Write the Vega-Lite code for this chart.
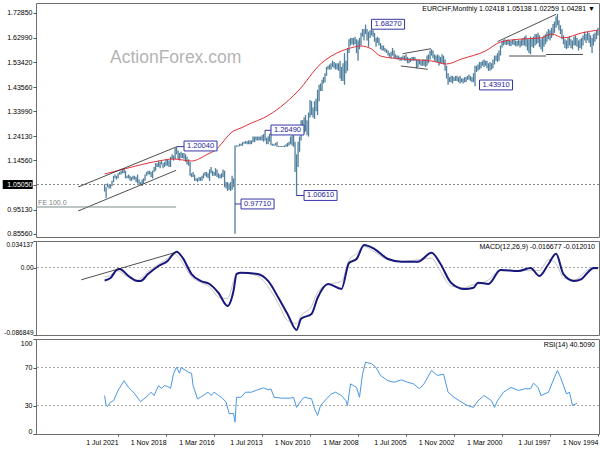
{
"$schema":"https://vega.github.io/schema/vega-lite/v6.json",
"padding":{"left":2,"top":2,"right":0,"bottom":0},
"background":"white",
"bounds":"flush",
"spacing":4,
"config":{"font":"Liberation Sans","view":{"stroke":"#6e6e6e","strokeWidth":1},
"axis":{"labelFontSize":7,"labelColor":"#000","tickColor":"#555","tickSize":3,"domain":false,"grid":false,"labelPadding":1,"labelOverlap":false,"tickCount":40},
"axisY":{"minExtent":33,"maxExtent":33},
"title":{"fontSize":7,"fontWeight":"normal","color":"#000","anchor":"end","offset":-9,"frame":"group","dx":-4}},
"datasets":{
"bars":[
{"d":"1994-11-01","h":1.670,"l":1.640},{"d":"1994-12-01","h":1.660,"l":1.625},{"d":"1995-01-01","h":1.650,"l":1.615},{"d":"1995-02-01","h":1.645,"l":1.600},{"d":"1995-03-01","h":1.630,"l":1.570},{"d":"1995-04-01","h":1.640,"l":1.595},{"d":"1995-05-01","h":1.650,"l":1.610},{"d":"1995-06-01","h":1.655,"l":1.620},{"d":"1995-07-01","h":1.645,"l":1.610},{"d":"1995-08-01","h":1.655,"l":1.620},{"d":"1995-09-01","h":1.640,"l":1.600},{"d":"1995-10-01","h":1.630,"l":1.585},{"d":"1995-11-01","h":1.625,"l":1.590},{"d":"1995-12-01","h":1.620,"l":1.580},
{"d":"1996-01-01","h":1.630,"l":1.595},{"d":"1996-02-01","h":1.640,"l":1.600},{"d":"1996-03-01","h":1.635,"l":1.600},{"d":"1996-04-01","h":1.620,"l":1.585},{"d":"1996-05-01","h":1.625,"l":1.590},{"d":"1996-06-01","h":1.635,"l":1.600},{"d":"1996-07-01","h":1.630,"l":1.590},{"d":"1996-08-01","h":1.620,"l":1.585},{"d":"1996-09-01","h":1.625,"l":1.590},{"d":"1996-10-01","h":1.640,"l":1.605},{"d":"1996-11-01","h":1.665,"l":1.625},{"d":"1996-12-01","h":1.680,"l":1.645},
{"d":"1997-01-01","h":1.700,"l":1.660},{"d":"1997-02-01","h":1.725,"l":1.680},{"d":"1997-03-01","h":1.715,"l":1.670},{"d":"1997-04-01","h":1.695,"l":1.650},{"d":"1997-05-01","h":1.685,"l":1.640},{"d":"1997-06-01","h":1.670,"l":1.630},{"d":"1997-07-01","h":1.660,"l":1.620},{"d":"1997-08-01","h":1.665,"l":1.625},{"d":"1997-09-01","h":1.655,"l":1.615},{"d":"1997-10-01","h":1.645,"l":1.605},{"d":"1997-11-01","h":1.640,"l":1.595},{"d":"1997-12-01","h":1.630,"l":1.575},
{"d":"1998-01-01","h":1.625,"l":1.585},{"d":"1998-02-01","h":1.640,"l":1.595},{"d":"1998-03-01","h":1.650,"l":1.610},{"d":"1998-04-01","h":1.645,"l":1.605},{"d":"1998-05-01","h":1.645,"l":1.600},{"d":"1998-06-01","h":1.635,"l":1.590},{"d":"1998-07-01","h":1.630,"l":1.595},{"d":"1998-08-01","h":1.635,"l":1.565},{"d":"1998-09-01","h":1.625,"l":1.570},{"d":"1998-10-01","h":1.625,"l":1.580},{"d":"1998-11-01","h":1.640,"l":1.595},{"d":"1998-12-01","h":1.635,"l":1.600},
{"d":"1999-01-01","h":1.630,"l":1.600},{"d":"1999-02-01","h":1.625,"l":1.598},{"d":"1999-03-01","h":1.620,"l":1.592},{"d":"1999-04-01","h":1.622,"l":1.600},{"d":"1999-05-01","h":1.618,"l":1.596},{"d":"1999-06-01","h":1.620,"l":1.598},{"d":"1999-07-01","h":1.625,"l":1.602},{"d":"1999-08-01","h":1.622,"l":1.604},{"d":"1999-09-01","h":1.618,"l":1.598},{"d":"1999-10-01","h":1.620,"l":1.598},{"d":"1999-11-01","h":1.625,"l":1.604},{"d":"1999-12-01","h":1.622,"l":1.602},
{"d":"2000-01-01","h":1.625,"l":1.604},{"d":"2000-02-01","h":1.622,"l":1.600},{"d":"2000-03-01","h":1.618,"l":1.592},{"d":"2000-04-01","h":1.600,"l":1.560},{"d":"2000-05-01","h":1.580,"l":1.540},{"d":"2000-06-01","h":1.570,"l":1.535},{"d":"2000-07-01","h":1.560,"l":1.540},{"d":"2000-08-01","h":1.560,"l":1.525},{"d":"2000-09-01","h":1.545,"l":1.510},{"d":"2000-10-01","h":1.530,"l":1.505},{"d":"2000-11-01","h":1.535,"l":1.500},{"d":"2000-12-01","h":1.530,"l":1.500},
{"d":"2001-01-01","h":1.540,"l":1.510},{"d":"2001-02-01","h":1.540,"l":1.520},{"d":"2001-03-01","h":1.545,"l":1.515},{"d":"2001-04-01","h":1.540,"l":1.520},{"d":"2001-05-01","h":1.535,"l":1.510},{"d":"2001-06-01","h":1.535,"l":1.505},{"d":"2001-07-01","h":1.525,"l":1.500},{"d":"2001-08-01","h":1.520,"l":1.495},{"d":"2001-09-01","h":1.520,"l":1.4391},{"d":"2001-10-01","h":1.490,"l":1.455},{"d":"2001-11-01","h":1.475,"l":1.455},{"d":"2001-12-01","h":1.480,"l":1.460},
{"d":"2002-01-01","h":1.485,"l":1.465},{"d":"2002-02-01","h":1.480,"l":1.465},{"d":"2002-03-01","h":1.475,"l":1.455},{"d":"2002-04-01","h":1.475,"l":1.455},{"d":"2002-05-01","h":1.470,"l":1.450},{"d":"2002-06-01","h":1.470,"l":1.455},{"d":"2002-07-01","h":1.480,"l":1.450},{"d":"2002-08-01","h":1.475,"l":1.455},{"d":"2002-09-01","h":1.480,"l":1.460},{"d":"2002-10-01","h":1.480,"l":1.460},{"d":"2002-11-01","h":1.475,"l":1.460},{"d":"2002-12-01","h":1.480,"l":1.450},
{"d":"2003-01-01","h":1.480,"l":1.455},{"d":"2003-02-01","h":1.475,"l":1.455},{"d":"2003-03-01","h":1.490,"l":1.445},{"d":"2003-04-01","h":1.520,"l":1.470},{"d":"2003-05-01","h":1.545,"l":1.500},{"d":"2003-06-01","h":1.560,"l":1.525},{"d":"2003-07-01","h":1.565,"l":1.530},{"d":"2003-08-01","h":1.555,"l":1.530},{"d":"2003-09-01","h":1.560,"l":1.520},{"d":"2003-10-01","h":1.565,"l":1.535},{"d":"2003-11-01","h":1.560,"l":1.535},{"d":"2003-12-01","h":1.565,"l":1.540},
{"d":"2004-01-01","h":1.580,"l":1.550},{"d":"2004-02-01","h":1.585,"l":1.560},{"d":"2004-03-01","h":1.580,"l":1.545},{"d":"2004-04-01","h":1.565,"l":1.530},{"d":"2004-05-01","h":1.560,"l":1.520},{"d":"2004-06-01","h":1.545,"l":1.515},{"d":"2004-07-01","h":1.545,"l":1.520},{"d":"2004-08-01","h":1.545,"l":1.520},{"d":"2004-09-01","h":1.540,"l":1.520},{"d":"2004-10-01","h":1.545,"l":1.525},{"d":"2004-11-01","h":1.545,"l":1.515},{"d":"2004-12-01","h":1.545,"l":1.510},
{"d":"2005-01-01","h":1.555,"l":1.540},{"d":"2005-02-01","h":1.555,"l":1.540},{"d":"2005-03-01","h":1.555,"l":1.540},{"d":"2005-04-01","h":1.550,"l":1.535},{"d":"2005-05-01","h":1.550,"l":1.530},{"d":"2005-06-01","h":1.555,"l":1.530},{"d":"2005-07-01","h":1.565,"l":1.540},{"d":"2005-08-01","h":1.560,"l":1.540},{"d":"2005-09-01","h":1.560,"l":1.545},{"d":"2005-10-01","h":1.555,"l":1.540},{"d":"2005-11-01","h":1.555,"l":1.540},{"d":"2005-12-01","h":1.560,"l":1.545},
{"d":"2006-01-01","h":1.560,"l":1.545},{"d":"2006-02-01","h":1.565,"l":1.550},{"d":"2006-03-01","h":1.580,"l":1.550},{"d":"2006-04-01","h":1.590,"l":1.560},{"d":"2006-05-01","h":1.575,"l":1.550},{"d":"2006-06-01","h":1.570,"l":1.555},{"d":"2006-07-01","h":1.580,"l":1.560},{"d":"2006-08-01","h":1.585,"l":1.570},{"d":"2006-09-01","h":1.590,"l":1.575},{"d":"2006-10-01","h":1.600,"l":1.580},{"d":"2006-11-01","h":1.600,"l":1.580},{"d":"2006-12-01","h":1.610,"l":1.585},
{"d":"2007-01-01","h":1.630,"l":1.600},{"d":"2007-02-01","h":1.635,"l":1.610},{"d":"2007-03-01","h":1.630,"l":1.595},{"d":"2007-04-01","h":1.650,"l":1.615},{"d":"2007-05-01","h":1.660,"l":1.635},{"d":"2007-06-01","h":1.665,"l":1.640},{"d":"2007-07-01","h":1.660,"l":1.630},{"d":"2007-08-01","h":1.655,"l":1.595},{"d":"2007-09-01","h":1.665,"l":1.620},{"d":"2007-10-01","h":1.6827,"l":1.645},{"d":"2007-11-01","h":1.665,"l":1.620},{"d":"2007-12-01","h":1.665,"l":1.635},
{"d":"2008-01-01","h":1.650,"l":1.600},{"d":"2008-02-01","h":1.630,"l":1.585},{"d":"2008-03-01","h":1.620,"l":1.540},{"d":"2008-04-01","h":1.625,"l":1.570},{"d":"2008-05-01","h":1.635,"l":1.605},{"d":"2008-06-01","h":1.630,"l":1.600},{"d":"2008-07-01","h":1.630,"l":1.605},{"d":"2008-08-01","h":1.630,"l":1.600},{"d":"2008-09-01","h":1.625,"l":1.570},{"d":"2008-10-01","h":1.590,"l":1.500},{"d":"2008-11-01","h":1.540,"l":1.490},{"d":"2008-12-01","h":1.570,"l":1.445},
{"d":"2009-01-01","h":1.530,"l":1.460},{"d":"2009-02-01","h":1.515,"l":1.460},{"d":"2009-03-01","h":1.540,"l":1.470},{"d":"2009-04-01","h":1.530,"l":1.500},{"d":"2009-05-01","h":1.530,"l":1.505},{"d":"2009-06-01","h":1.530,"l":1.505},{"d":"2009-07-01","h":1.535,"l":1.510},{"d":"2009-08-01","h":1.540,"l":1.515},{"d":"2009-09-01","h":1.530,"l":1.505},{"d":"2009-10-01","h":1.525,"l":1.505},{"d":"2009-11-01","h":1.520,"l":1.505},{"d":"2009-12-01","h":1.515,"l":1.480},
{"d":"2010-01-01","h":1.490,"l":1.455},{"d":"2010-02-01","h":1.475,"l":1.450},{"d":"2010-03-01","h":1.465,"l":1.420},{"d":"2010-04-01","h":1.450,"l":1.420},{"d":"2010-05-01","h":1.445,"l":1.380},{"d":"2010-06-01","h":1.425,"l":1.325},{"d":"2010-07-01","h":1.390,"l":1.340},{"d":"2010-08-01","h":1.380,"l":1.310},{"d":"2010-09-01","h":1.355,"l":1.315},{"d":"2010-10-01","h":1.380,"l":1.325},{"d":"2010-11-01","h":1.385,"l":1.315},{"d":"2010-12-01","h":1.335,"l":1.240},
{"d":"2011-01-01","h":1.305,"l":1.245},{"d":"2011-02-01","h":1.325,"l":1.260},{"d":"2011-03-01","h":1.315,"l":1.255},{"d":"2011-04-01","h":1.305,"l":1.265},{"d":"2011-05-01","h":1.305,"l":1.225},{"d":"2011-06-01","h":1.240,"l":1.180},{"d":"2011-07-01","h":1.220,"l":1.120},{"d":"2011-08-01","h":1.170,"l":1.0061},{"d":"2011-09-01","h":1.220,"l":1.100},{"d":"2011-10-01","h":1.245,"l":1.200},{"d":"2011-11-01","h":1.245,"l":1.205},{"d":"2011-12-01","h":1.240,"l":1.210},
{"d":"2012-01-01","h":1.220,"l":1.205},{"d":"2012-02-01","h":1.215,"l":1.200},{"d":"2012-03-01","h":1.210,"l":1.200},{"d":"2012-04-01","h":1.205,"l":1.198},{"d":"2012-05-01","h":1.203,"l":1.199},{"d":"2012-06-01","h":1.203,"l":1.199},{"d":"2012-07-01","h":1.203,"l":1.199},{"d":"2012-08-01","h":1.203,"l":1.199},{"d":"2012-09-01","h":1.220,"l":1.200},{"d":"2012-10-01","h":1.215,"l":1.205},{"d":"2012-11-01","h":1.210,"l":1.203},{"d":"2012-12-01","h":1.212,"l":1.204},
{"d":"2013-01-01","h":1.255,"l":1.206},{"d":"2013-02-01","h":1.250,"l":1.220},{"d":"2013-03-01","h":1.240,"l":1.210},{"d":"2013-04-01","h":1.235,"l":1.210},{"d":"2013-05-01","h":1.2649,"l":1.225},{"d":"2013-06-01","h":1.250,"l":1.220},{"d":"2013-07-01","h":1.245,"l":1.225},{"d":"2013-08-01","h":1.240,"l":1.225},{"d":"2013-09-01","h":1.240,"l":1.225},{"d":"2013-10-01","h":1.240,"l":1.225},{"d":"2013-11-01","h":1.240,"l":1.225},{"d":"2013-12-01","h":1.240,"l":1.218},
{"d":"2014-01-01","h":1.240,"l":1.218},{"d":"2014-02-01","h":1.225,"l":1.210},{"d":"2014-03-01","h":1.225,"l":1.210},{"d":"2014-04-01","h":1.225,"l":1.210},{"d":"2014-05-01","h":1.222,"l":1.210},{"d":"2014-06-01","h":1.222,"l":1.212},{"d":"2014-07-01","h":1.220,"l":1.212},{"d":"2014-08-01","h":1.218,"l":1.204},{"d":"2014-09-01","h":1.212,"l":1.204},{"d":"2014-10-01","h":1.212,"l":1.202},{"d":"2014-11-01","h":1.205,"l":1.200},{"d":"2014-12-01","h":1.205,"l":1.200},
{"d":"2015-01-01","h":1.205,"l":0.8556},{"d":"2015-02-01","h":1.075,"l":1.040},{"d":"2015-03-01","h":1.085,"l":1.030},{"d":"2015-04-01","h":1.060,"l":1.025},{"d":"2015-05-01","h":1.055,"l":1.030},{"d":"2015-06-01","h":1.060,"l":1.025},{"d":"2015-07-01","h":1.060,"l":1.035},{"d":"2015-08-01","h":1.105,"l":1.040},{"d":"2015-09-01","h":1.110,"l":1.080},{"d":"2015-10-01","h":1.095,"l":1.075},{"d":"2015-11-01","h":1.090,"l":1.075},{"d":"2015-12-01","h":1.095,"l":1.075},
{"d":"2016-01-01","h":1.110,"l":1.080},{"d":"2016-02-01","h":1.115,"l":1.085},{"d":"2016-03-01","h":1.100,"l":1.085},{"d":"2016-04-01","h":1.105,"l":1.085},{"d":"2016-05-01","h":1.120,"l":1.095},{"d":"2016-06-01","h":1.110,"l":1.065},{"d":"2016-07-01","h":1.095,"l":1.075},{"d":"2016-08-01","h":1.100,"l":1.080},{"d":"2016-09-01","h":1.100,"l":1.085},{"d":"2016-10-01","h":1.095,"l":1.075},{"d":"2016-11-01","h":1.085,"l":1.065},{"d":"2016-12-01","h":1.080,"l":1.065},
{"d":"2017-01-01","h":1.080,"l":1.065},{"d":"2017-02-01","h":1.075,"l":1.060},{"d":"2017-03-01","h":1.075,"l":1.065},{"d":"2017-04-01","h":1.090,"l":1.065},{"d":"2017-05-01","h":1.100,"l":1.080},{"d":"2017-06-01","h":1.095,"l":1.080},{"d":"2017-07-01","h":1.140,"l":1.085},{"d":"2017-08-01","h":1.150,"l":1.125},{"d":"2017-09-01","h":1.160,"l":1.130},{"d":"2017-10-01","h":1.170,"l":1.140},{"d":"2017-11-01","h":1.175,"l":1.150},{"d":"2017-12-01","h":1.175,"l":1.155},
{"d":"2018-01-01","h":1.180,"l":1.155},{"d":"2018-02-01","h":1.175,"l":1.145},{"d":"2018-03-01","h":1.185,"l":1.150},{"d":"2018-04-01","h":1.2004,"l":1.170},{"d":"2018-05-01","h":1.195,"l":1.150},{"d":"2018-06-01","h":1.165,"l":1.145},{"d":"2018-07-01","h":1.170,"l":1.150},{"d":"2018-08-01","h":1.160,"l":1.120},{"d":"2018-09-01","h":1.145,"l":1.120},{"d":"2018-10-01","h":1.150,"l":1.125},{"d":"2018-11-01","h":1.150,"l":1.125},{"d":"2018-12-01","h":1.140,"l":1.120},
{"d":"2019-01-01","h":1.135,"l":1.115},{"d":"2019-02-01","h":1.145,"l":1.130},{"d":"2019-03-01","h":1.140,"l":1.115},{"d":"2019-04-01","h":1.145,"l":1.120},{"d":"2019-05-01","h":1.135,"l":1.120},{"d":"2019-06-01","h":1.135,"l":1.105},{"d":"2019-07-01","h":1.120,"l":1.100},{"d":"2019-08-01","h":1.105,"l":1.075},{"d":"2019-09-01","h":1.100,"l":1.080},{"d":"2019-10-01","h":1.105,"l":1.090},{"d":"2019-11-01","h":1.105,"l":1.090},{"d":"2019-12-01","h":1.100,"l":1.085},
{"d":"2020-01-01","h":1.090,"l":1.065},{"d":"2020-02-01","h":1.075,"l":1.055},{"d":"2020-03-01","h":1.070,"l":1.045},{"d":"2020-04-01","h":1.060,"l":1.050},{"d":"2020-05-01","h":1.070,"l":1.050},{"d":"2020-06-01","h":1.090,"l":1.055},{"d":"2020-07-01","h":1.080,"l":1.060},{"d":"2020-08-01","h":1.085,"l":1.070},{"d":"2020-09-01","h":1.085,"l":1.070},{"d":"2020-10-01","h":1.080,"l":1.065},{"d":"2020-11-01","h":1.085,"l":1.065},{"d":"2020-12-01","h":1.090,"l":1.075},
{"d":"2021-01-01","h":1.085,"l":1.075},{"d":"2021-02-01","h":1.105,"l":1.075},{"d":"2021-03-01","h":1.115,"l":1.095},{"d":"2021-04-01","h":1.110,"l":1.095},{"d":"2021-05-01","h":1.105,"l":1.090},{"d":"2021-06-01","h":1.100,"l":1.090},{"d":"2021-07-01","h":1.095,"l":1.075},{"d":"2021-08-01","h":1.085,"l":1.070},{"d":"2021-09-01","h":1.090,"l":1.075},{"d":"2021-10-01","h":1.085,"l":1.060},{"d":"2021-11-01","h":1.065,"l":1.045},{"d":"2021-12-01","h":1.050,"l":1.035},
{"d":"2022-01-01","h":1.050,"l":1.035},{"d":"2022-02-01","h":1.055,"l":1.040},{"d":"2022-03-01","h":1.040,"l":0.997},{"d":"2022-04-01","h":1.0514,"l":1.0226}
],
"ma":[
{"d":"1994-11-01","v":1.661},{"d":"1995-10-01","v":1.6495},{"d":"1996-10-01","v":1.630},{"d":"1997-06-01","v":1.6455},{"d":"1998-01-01","v":1.630},{"d":"1999-02-01","v":1.6257},{"d":"2000-04-01","v":1.6139},{"d":"2001-02-01","v":1.5783},{"d":"2002-06-01","v":1.5467},{"d":"2003-04-01","v":1.5269},{"d":"2004-02-01","v":1.5388},{"d":"2005-10-01","v":1.5467},{"d":"2006-12-01","v":1.5585},{"d":"2007-06-01","v":1.5862},{"d":"2008-01-01","v":1.598},{"d":"2008-08-01","v":1.5902},{"d":"2009-02-01","v":1.5783},{"d":"2010-04-01","v":1.5269},{"d":"2011-07-01","v":1.4202},{"d":"2013-06-01","v":1.3135},{"d":"2014-02-01","v":1.2937},{"d":"2014-09-01","v":1.274},{"d":"2015-02-01","v":1.2621},{"d":"2016-03-01","v":1.183},{"d":"2016-07-01","v":1.1712},{"d":"2017-06-01","v":1.1435},{"d":"2018-06-01","v":1.1514},{"d":"2019-04-01","v":1.1435},{"d":"2021-03-01","v":1.1119},{"d":"2022-04-01","v":1.0921}
],
"macd":[
{"d":"1994-11-01","m":-0.0005,"s":-0.002},{"d":"1995-02-01","m":-0.0005,"s":-0.002},{"d":"1995-06-01","m":-0.0067,"s":-0.003},{"d":"1995-10-01","m":-0.0148,"s":-0.010},{"d":"1996-03-01","m":-0.0173,"s":-0.016},{"d":"1996-10-01","m":-0.0084,"s":-0.013},{"d":"1997-03-01","m":0.0178,"s":0.005},{"d":"1997-08-01","m":0.0045,"s":0.010},{"d":"1998-02-01","m":-0.0109,"s":-0.004},{"d":"1998-08-01","m":-0.0006,"s":-0.004},{"d":"1999-04-01","m":-0.0045,"s":-0.004},{"d":"2000-04-01","m":-0.0032,"s":-0.003},{"d":"2000-12-01","m":-0.0212,"s":-0.016},{"d":"2001-07-01","m":-0.0195,"s":-0.021},{"d":"2001-10-01","m":-0.0260,"s":-0.022},{"d":"2002-04-01","m":-0.0276,"s":-0.026},{"d":"2003-01-01","m":-0.0195,"s":-0.024},{"d":"2003-08-01","m":0.0045,"s":-0.005},{"d":"2004-02-01","m":0.0191,"s":0.012},{"d":"2004-11-01","m":0.0075,"s":0.010},{"d":"2005-10-01","m":0.0075,"s":0.008},{"d":"2006-07-01","m":0.0110,"s":0.010},{"d":"2007-04-01","m":0.0238,"s":0.020},{"d":"2007-11-01","m":0.0290,"s":0.027},{"d":"2008-04-01","m":0.0110,"s":0.018},{"d":"2008-09-01","m":0.0058,"s":0.009},{"d":"2009-02-01","m":-0.0276,"s":-0.018},{"d":"2009-11-01","m":-0.0212,"s":-0.022},{"d":"2010-06-01","m":-0.0392,"s":-0.032},{"d":"2010-10-01","m":-0.0598,"s":-0.050},{"d":"2011-05-01","m":-0.0660,"s":-0.062},{"d":"2011-08-01","m":-0.0804,"s":-0.072},{"d":"2012-02-01","m":-0.0598,"s":-0.068},{"d":"2012-08-01","m":-0.0392,"s":-0.047},{"d":"2013-03-01","m":-0.0173,"s":-0.025},{"d":"2013-10-01","m":-0.0084,"s":-0.011},{"d":"2014-09-01","m":-0.0067,"s":-0.007},{"d":"2014-12-01","m":-0.0084,"s":-0.007},{"d":"2015-02-01","m":-0.0302,"s":-0.018},{"d":"2015-06-01","m":-0.0495,"s":-0.040},{"d":"2015-12-01","m":-0.0328,"s":-0.038},{"d":"2016-06-01","m":-0.0212,"s":-0.025},{"d":"2016-12-01","m":-0.0173,"s":-0.019},{"d":"2017-06-01","m":-0.0084,"s":-0.012},{"d":"2017-12-01","m":0.0127,"s":0.006},{"d":"2018-04-01","m":0.0204,"s":0.016},{"d":"2018-06-01","m":0.0178,"s":0.018},{"d":"2018-10-01","m":0.0084,"s":0.012},{"d":"2019-04-01","m":0.0020,"s":0.004},{"d":"2019-11-01","m":-0.0084,"s":-0.005},{"d":"2020-04-01","m":-0.0173,"s":-0.014},{"d":"2020-06-01","m":-0.0173,"s":-0.016},{"d":"2020-12-01","m":-0.0109,"s":-0.013},{"d":"2021-06-01","m":-0.0019,"s":-0.005},{"d":"2021-08-01","m":-0.0032,"s":-0.004},{"d":"2021-12-01","m":-0.0135,"s":-0.010},{"d":"2022-04-01","m":-0.0167,"s":-0.012}
],
"rsi":[
{"d":"1996-01-01","r":32.4},{"d":"1996-04-01","r":30},{"d":"1996-06-01","r":44},{"d":"1996-08-01","r":42.3},{"d":"1996-12-01","r":59.8},{"d":"1997-02-01","r":66.8},{"d":"1997-04-01","r":59.8},{"d":"1997-08-01","r":44},{"d":"1998-01-01","r":40.5},{"d":"1998-03-01","r":49},{"d":"1998-06-01","r":53.5},{"d":"1998-08-01","r":47.6},{"d":"1998-12-01","r":47.6},{"d":"1999-04-01","r":45.8},{"d":"1999-09-01","r":49},{"d":"2000-02-01","r":44},{"d":"2000-06-01","r":35},{"d":"2000-08-01","r":28},{"d":"2000-10-01","r":35},{"d":"2001-03-01","r":40.5},{"d":"2001-07-01","r":35},{"d":"2001-10-01","r":28},{"d":"2002-02-01","r":30},{"d":"2002-06-01","r":33.5},{"d":"2002-11-01","r":38.7},{"d":"2003-03-01","r":44},{"d":"2003-06-01","r":63},{"d":"2003-10-01","r":61.6},{"d":"2004-02-01","r":66.8},{"d":"2004-07-01","r":52.8},{"d":"2004-10-01","r":47.6},{"d":"2005-02-01","r":52.8},{"d":"2005-06-01","r":54.5},{"d":"2005-10-01","r":57},{"d":"2006-03-01","r":54.5},{"d":"2006-07-01","r":56},{"d":"2006-12-01","r":61.6},{"d":"2007-03-01","r":70},{"d":"2007-06-01","r":74},{"d":"2007-10-01","r":75.6},{"d":"2007-12-01","r":63},{"d":"2008-02-01","r":38.7},{"d":"2008-04-01","r":49},{"d":"2008-08-01","r":52.8},{"d":"2008-10-01","r":30},{"d":"2008-11-01","r":35},{"d":"2009-02-01","r":40.5},{"d":"2009-06-01","r":44},{"d":"2009-09-01","r":42},{"d":"2009-12-01","r":37},{"d":"2010-04-01","r":30},{"d":"2010-06-01","r":19.5},{"d":"2010-08-01","r":26.5},{"d":"2010-10-01","r":37},{"d":"2011-03-01","r":38.7},{"d":"2011-05-01","r":35},{"d":"2011-08-01","r":28},{"d":"2011-10-01","r":38.7},{"d":"2011-12-01","r":37.7},{"d":"2012-06-01","r":37.7},{"d":"2012-11-01","r":38.7},{"d":"2013-01-01","r":47.5},{"d":"2013-03-01","r":46.5},{"d":"2013-06-01","r":48.6},{"d":"2013-10-01","r":46.5},{"d":"2014-02-01","r":44},{"d":"2014-06-01","r":44},{"d":"2014-09-01","r":38.7},{"d":"2014-12-01","r":38.7},{"d":"2015-01-01","r":12.5},{"d":"2015-02-01","r":21.5},{"d":"2015-05-01","r":21.5},{"d":"2015-07-01","r":33.5},{"d":"2015-10-01","r":38.7},{"d":"2015-12-01","r":40.5},{"d":"2016-03-01","r":44},{"d":"2016-05-01","r":40.5},{"d":"2016-07-01","r":44},{"d":"2016-12-01","r":38.7},{"d":"2017-02-01","r":37},{"d":"2017-05-01","r":51},{"d":"2017-06-01","r":64},{"d":"2017-08-01","r":65},{"d":"2017-11-01","r":68},{"d":"2018-01-01","r":70},{"d":"2018-02-01","r":64},{"d":"2018-04-01","r":70.3},{"d":"2018-06-01","r":63.7},{"d":"2018-08-01","r":48},{"d":"2018-10-01","r":50},{"d":"2018-12-01","r":51},{"d":"2019-02-01","r":48},{"d":"2019-04-01","r":51},{"d":"2019-07-01","r":40.5},{"d":"2019-09-01","r":44},{"d":"2019-11-01","r":40.5},{"d":"2020-04-01","r":34},{"d":"2020-08-01","r":42.6},{"d":"2020-10-01","r":46},{"d":"2020-12-01","r":49},{"d":"2021-03-01","r":56},{"d":"2021-05-01","r":51},{"d":"2021-07-01","r":46},{"d":"2021-10-01","r":35},{"d":"2021-12-01","r":33.5},{"d":"2022-02-01","r":29},{"d":"2022-03-01","r":30},{"d":"2022-04-01","r":40.5}
],
"tl":[
{"id":"a","d":"2023-09-20","p":1.0408},{"id":"a","d":"2018-04-10","p":1.1989},
{"id":"b","d":"2023-09-20","p":0.9459},{"id":"b","d":"2018-04-10","p":1.1068},
{"id":"c","d":"2005-09-07","p":1.5676},{"id":"c","d":"2004-02-10","p":1.5874},
{"id":"e","d":"2005-10-15","p":1.519},{"id":"e","d":"2004-04-15","p":1.506},
{"id":"f","d":"2000-05-27","p":1.6158},{"id":"f","d":"1997-03-01","p":1.7234},
{"id":"g","d":"1999-10-10","p":1.5585},{"id":"g","d":"1997-09-20","p":1.5585},
{"id":"h","d":"1997-09-20","p":1.5645},{"id":"h","d":"1995-09-01","p":1.5645}
],
"conn":[
{"id":"c1","d":"2018-04-01","p":1.2004},{"id":"c1","d":"2017-11-01","p":1.2004},
{"id":"c2","d":"2013-05-01","p":1.2649},{"id":"c2","d":"2012-12-15","p":1.2649},
{"id":"c3","d":"2015-01-01","p":0.9736},{"id":"c3","d":"2014-08-15","p":0.9736},
{"id":"c4","d":"2011-08-01","p":1.0072},{"id":"c4","d":"2011-03-01","p":1.0072}
],
"labels":[
{"t":"1.68270","d":"2006-07-01","p":1.684},{"t":"1.43910","d":"2000-07-01","p":1.444},{"t":"1.20040","d":"2016-12-01","p":1.2028},{"t":"1.26490","d":"2012-02-01","p":1.266},{"t":"0.97710","d":"2013-10-01","p":0.9736},{"t":"1.00610","d":"2010-04-01","p":1.0072}
]
},
"vconcat":[
{"width":563,"height":234,
"title":{"text":"EURCHF,Monthly  1.02418 1.05138 1.02259 1.04281  \u25bc"},
"layer":[
{"data":{"name":"bars"},"mark":{"type":"rule","color":"#4f7f9c","strokeWidth":1.3},
"encoding":{"x":{"field":"d","type":"temporal","scale":{"type":"utc","domain":[{"year":1994,"month":10,"date":11,"utc":true},{"year":2026,"month":1,"date":22,"utc":true}],"reverse":true},"axis":null},
"y":{"field":"l","type":"quantitative","scale":{"domain":[0.8431,1.768],"nice":false,"zero":false},
"axis":{"title":null,"labelOverlap":false,"tickCount":40,"values":[1.7285,1.6299,1.5342,1.4356,1.3399,1.2413,1.1456,1.0505,0.9513,0.8556],"labelExpr":"format(datum.value,'.5f')","zindex":1,"labelColor":{"condition":{"test":"datum.value == 1.0505","value":"white"},"value":"black"}}},
"y2":{"field":"h"}}},
{"data":{"name":"ma"},"mark":{"type":"line","color":"#e0303a","strokeWidth":1,"interpolate":"monotone"},
"encoding":{"x":{"field":"d","type":"temporal","scale":{"type":"utc","domain":[{"year":1994,"month":10,"date":11,"utc":true},{"year":2026,"month":1,"date":22,"utc":true}],"reverse":true},"axis":null},
"y":{"field":"v","type":"quantitative","scale":{"domain":[0.8431,1.768],"nice":false,"zero":false}}}},
{"data":{"values":[{"p":1.0505}]},"mark":{"type":"rule","color":"#8a8a8a","strokeDash":[2,2],"strokeWidth":1},
"encoding":{"y":{"field":"p","type":"quantitative","scale":{"domain":[0.8431,1.768],"nice":false,"zero":false}}}},
{"data":{"name":"tl"},"mark":{"type":"line","color":"#222","strokeWidth":0.8,"clip":true},
"encoding":{"x":{"field":"d","type":"temporal","scale":{"type":"utc","domain":[{"year":1994,"month":10,"date":11,"utc":true},{"year":2026,"month":1,"date":22,"utc":true}],"reverse":true},"axis":null},
"y":{"field":"p","type":"quantitative","scale":{"domain":[0.8431,1.768],"nice":false,"zero":false}},"detail":{"field":"id"}}},
{"data":{"values":[{"id":"fe","d":"2026-06-01","p":0.9617},{"id":"fe","d":"2018-04-10","p":0.9617}]},"mark":{"type":"line","color":"#7a8a8a","strokeWidth":1,"clip":true},
"encoding":{"x":{"field":"d","type":"temporal","scale":{"type":"utc","domain":[{"year":1994,"month":10,"date":11,"utc":true},{"year":2026,"month":1,"date":22,"utc":true}],"reverse":true},"axis":null},
"y":{"field":"p","type":"quantitative","scale":{"domain":[0.8431,1.768],"nice":false,"zero":false}}}},
{"data":{"name":"conn"},"mark":{"type":"line","color":"#3535a5","strokeWidth":1},
"encoding":{"x":{"field":"d","type":"temporal","scale":{"type":"utc","domain":[{"year":1994,"month":10,"date":11,"utc":true},{"year":2026,"month":1,"date":22,"utc":true}],"reverse":true},"axis":null},
"y":{"field":"p","type":"quantitative","scale":{"domain":[0.8431,1.768],"nice":false,"zero":false}},"detail":{"field":"id"}}},
{"data":{"name":"labels"},"mark":{"type":"point","shape":"M-1,-0.3H1V0.3H-1Z","filled":true,"fill":"white","stroke":"#3535a5","strokeWidth":1,"size":1089,"opacity":1},
"encoding":{"x":{"field":"d","type":"temporal","scale":{"type":"utc","domain":[{"year":1994,"month":10,"date":11,"utc":true},{"year":2026,"month":1,"date":22,"utc":true}],"reverse":true},"axis":null},
"y":{"field":"p","type":"quantitative","scale":{"domain":[0.8431,1.768],"nice":false,"zero":false}}}},
{"data":{"name":"labels"},"mark":{"type":"text","fontSize":7.5,"color":"#1e1e96"},
"encoding":{"x":{"field":"d","type":"temporal","scale":{"type":"utc","domain":[{"year":1994,"month":10,"date":11,"utc":true},{"year":2026,"month":1,"date":22,"utc":true}],"reverse":true},"axis":null},
"y":{"field":"p","type":"quantitative","scale":{"domain":[0.8431,1.768],"nice":false,"zero":false}},"text":{"field":"t"}}},
{"data":{"values":[{"t":"ActionForex.com","d":"2018-04-20","p":1.549}]},"mark":{"type":"text","fontSize":17.5,"color":"#b4b4b4"},
"encoding":{"x":{"field":"d","type":"temporal","scale":{"type":"utc","domain":[{"year":1994,"month":10,"date":11,"utc":true},{"year":2026,"month":1,"date":22,"utc":true}],"reverse":true},"axis":null},
"y":{"field":"p","type":"quantitative","scale":{"domain":[0.8431,1.768],"nice":false,"zero":false}},"text":{"field":"t"}}},
{"data":{"values":[{"t":"FE 100.0","d":"2025-12-10","p":0.9775}]},"mark":{"type":"text","fontSize":7,"color":"#808080","align":"left"},
"encoding":{"x":{"field":"d","type":"temporal","scale":{"type":"utc","domain":[{"year":1994,"month":10,"date":11,"utc":true},{"year":2026,"month":1,"date":22,"utc":true}],"reverse":true},"axis":null},
"y":{"field":"p","type":"quantitative","scale":{"domain":[0.8431,1.768],"nice":false,"zero":false}},"text":{"field":"t"}}},
{"data":{"values":[{"d":"2027-01-28","p":1.0505}]},"mark":{"type":"point","shape":"M-1,-0.3H1V0.3H-1Z","filled":true,"fill":"black","size":900,"opacity":1},
"encoding":{"x":{"field":"d","type":"temporal","scale":{"type":"utc","domain":[{"year":1994,"month":10,"date":11,"utc":true},{"year":2026,"month":1,"date":22,"utc":true}],"reverse":true},"axis":null},
"y":{"field":"p","type":"quantitative","scale":{"domain":[0.8431,1.768],"nice":false,"zero":false}}}}
]},
{"width":563,"height":94,
"title":{"text":"MACD(12,26,9) -0.016677 -0.012010"},
"layer":[
{"data":{"values":[{"z":0}]},"mark":{"type":"rule","color":"#a8a8a8","strokeDash":[2,2],"strokeWidth":1},
"encoding":{"y":{"field":"z","type":"quantitative","scale":{"domain":[-0.086849,0.034137],"nice":false,"zero":false},
"axis":{"title":null,"labelOverlap":false,"tickCount":40,"labelFontSize":6.5,"values":[0.034137,0,-0.086849],"labelFlush":true,"labelPadding":0,"labelExpr":"datum.value == 0 ? '0.00' : replace(format(datum.value,'.6f'),'\u2212','-')"}}}},
{"data":{"name":"macd"},"mark":{"type":"line","color":"#c4c4c4","strokeWidth":1,"interpolate":"monotone"},
"encoding":{"x":{"field":"d","type":"temporal","scale":{"type":"utc","domain":[{"year":1994,"month":10,"date":11,"utc":true},{"year":2026,"month":1,"date":22,"utc":true}],"reverse":true},"axis":null},
"y":{"field":"s","type":"quantitative","scale":{"domain":[-0.086849,0.034137],"nice":false,"zero":false}}}},
{"data":{"name":"macd"},"mark":{"type":"line","color":"#17177d","strokeWidth":2,"interpolate":"monotone"},
"encoding":{"x":{"field":"d","type":"temporal","scale":{"type":"utc","domain":[{"year":1994,"month":10,"date":11,"utc":true},{"year":2026,"month":1,"date":22,"utc":true}],"reverse":true},"axis":null},
"y":{"field":"m","type":"quantitative","scale":{"domain":[-0.086849,0.034137],"nice":false,"zero":false}}}},
{"data":{"values":[{"d":"2023-07-20","v":-0.0158},{"d":"2018-04-10","v":0.0197}]},"mark":{"type":"line","color":"#222","strokeWidth":0.8},
"encoding":{"x":{"field":"d","type":"temporal","scale":{"type":"utc","domain":[{"year":1994,"month":10,"date":11,"utc":true},{"year":2026,"month":1,"date":22,"utc":true}],"reverse":true},"axis":null},
"y":{"field":"v","type":"quantitative","scale":{"domain":[-0.086849,0.034137],"nice":false,"zero":false}}}}
]},
{"width":563,"height":95,
"title":{"text":"RSI(14) 40.5090"},
"layer":[
{"data":{"values":[{"z":30},{"z":70}]},"mark":{"type":"rule","color":"#a8a8a8","strokeDash":[2,2],"strokeWidth":1},
"encoding":{"y":{"field":"z","type":"quantitative","scale":{"domain":[0,100],"nice":false},
"axis":{"title":null,"labelOverlap":false,"tickCount":40,"values":[0,30,70,100],"labelFlush":true}}}},
{"data":{"name":"rsi"},"mark":{"type":"line","color":"#4a98e4","strokeWidth":1},
"encoding":{"x":{"field":"d","type":"temporal","scale":{"type":"utc","domain":[{"year":1994,"month":10,"date":11,"utc":true},{"year":2026,"month":1,"date":22,"utc":true}],"reverse":true},
"axis":{"title":null,"labelExpr":"utcFormat(datum.value, '%-d %b %Y')","labelAlign":"right","labelOverlap":false,"labelFlush":false,"tickSize":2,"labelPadding":2,"tickCount":40,
"values":[{"year":1994,"month":11,"date":1,"utc":true},{"year":1997,"month":7,"date":1,"utc":true},{"year":2000,"month":3,"date":1,"utc":true},{"year":2002,"month":11,"date":1,"utc":true},{"year":2005,"month":7,"date":1,"utc":true},{"year":2008,"month":3,"date":1,"utc":true},{"year":2010,"month":11,"date":1,"utc":true},{"year":2013,"month":7,"date":1,"utc":true},{"year":2016,"month":3,"date":1,"utc":true},{"year":2018,"month":11,"date":1,"utc":true},{"year":2021,"month":7,"date":1,"utc":true}]}},
"y":{"field":"r","type":"quantitative","scale":{"domain":[0,100],"nice":false}}}}
]}
]
}
